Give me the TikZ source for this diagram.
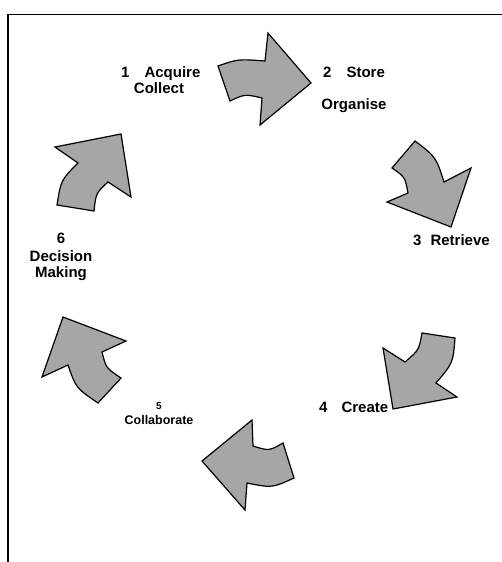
\documentclass[tikz,border=0pt]{standalone}
\usepackage{fontspec}
\setmainfont{Liberation Sans}
\begin{document}
\begin{tikzpicture}[x=1pt,y=-1pt,
  cyc/.style={draw=black,line width=1.2pt,fill=arrowgray,line join=miter},
  lbl/.style={inner sep=0pt,font=\fontsize{15}{15}\selectfont\bfseries,anchor=base west},
  lblc/.style={inner sep=0pt,font=\fontsize{15}{15}\selectfont\bfseries,anchor=base}]
\definecolor{arrowgray}{gray}{0.65}
\useasboundingbox (0,0) rectangle (502,562);
\fill[white] (0,0) rectangle (502,562);
% frame (top and left only visible)
\draw[line width=1.5pt,line cap=rect] (8,562) -- (8,14.5) -- (502,14.5);
% arrow 1 (top, pointing right)
\draw[cyc] (218,66) .. controls (238,59) .. (265,61) -- (268,33) -- (311,83) -- (260,125) -- (262,98)
  .. controls (245,94) .. (230,101) -- cycle;
% arrow 2 (upper right, pointing down-right)
\draw[cyc] (415,141) -- (392,168) .. controls (405,177) .. (408,193) -- (387,202) -- (451,227)
  -- (471,168) -- (444,182) .. controls (436,157) .. cycle;
% arrow 3 (lower right, pointing down-left)
\draw[cyc] (422,333) -- (455,338) .. controls (453,363) .. (436,383) -- (457,397) -- (393,409)
  -- (383,348) -- (405,362) .. controls (419,350) .. cycle;
% arrow 4 (bottom, pointing left)
\draw[cyc] (283,443) -- (294,478) .. controls (272,488) .. (247,483) -- (245,510) -- (202,461)
  -- (252,420) -- (253,446) .. controls (269,451) .. cycle;
% arrow 5 (lower left, pointing up-left)
\draw[cyc] (121,378) -- (98,403) .. controls (76,388) .. (68,365) -- (42,377) -- (63,317)
  -- (126,341) -- (102,352) .. controls (106,368) .. cycle;
% arrow 6 (upper left, pointing up-right)
\draw[cyc] (57,205) -- (94,211) .. controls (96,193) .. (108,182) -- (131,197) -- (121,134)
  -- (55,147) -- (78,163) .. controls (61,180) .. cycle;
% labels
\node[lbl] (l1) at (121,77) {1\quad Acquire};
\node[lblc] (l1b) at (159,93) {Collect};
\node[lbl] (l2) at (323,77) {2\quad Store};
\node[lblc] (l2b) at (354,109) {Organise};
\node[lbl] (l3) at (413,245) {3\hspace{9pt}Retrieve};
\node[lbl] (l4) at (319,412) {4\hspace{14pt}Create};
\node[inner sep=0pt,font=\fontsize{10}{10}\selectfont\bfseries,anchor=base] (l5) at (159,409) {5};
\node[inner sep=0pt,font=\fontsize{12.5}{12.5}\selectfont\bfseries,anchor=base] (l5b) at (159,424) {Collaborate};
\node[lblc] (l6) at (61,243) {6};
\node[lblc] (l6b) at (61,261) {Decision};
\node[lblc] (l6c) at (61,277) {Making};
\end{tikzpicture}
\end{document}
